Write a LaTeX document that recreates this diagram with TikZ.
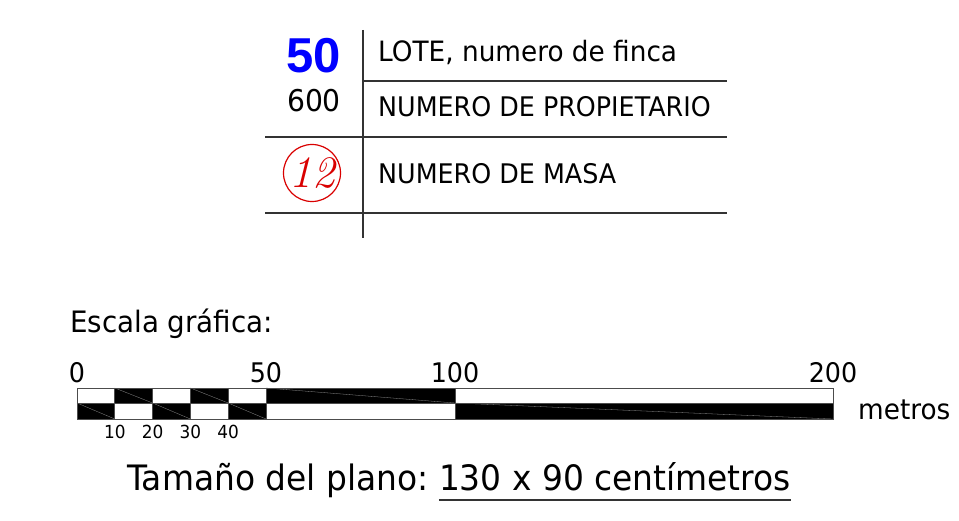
\documentclass[tikz,border=0pt]{standalone}
\usepackage{fontspec}
\setsansfont[FakeStretch=0.94]{DejaVu Sans}
\newfontfamily\boldnum{Liberation Sans}
\renewcommand{\familydefault}{\sfdefault}
\usetikzlibrary{positioning,calc}

\begin{document}
\begin{tikzpicture}[x=1pt,y=-1pt,
    rule/.style={draw=black!80, line width=1.3pt},
    lbl/.style={inner sep=0pt, font=\fontsize{28}{30}\selectfont},
    caps/.style={inner sep=0pt, font=\fontsize{27}{29}\selectfont},
    tick/.style={inner sep=0pt, anchor=base, font=\fontsize{27}{29}\selectfont},
    smalltick/.style={inner sep=0pt, anchor=base, font=\fontsize{18}{20}\selectfont},
    cell/.style={fill=black},
    hatch/.style={draw=black!45, line width=0.3pt}]
                \useasboundingbox (0,0) rectangle (959,521);
                
                % Legend table
                \draw[rule] (363,30) -- (363,238);
                \draw[rule] (363,81) -- (727,81);
                \draw[rule] (265,137) -- (727,137);
                \draw[rule] (265,213) -- (727,213);
                
                \node[anchor=base, inner sep=0pt, text=blue, font=\boldnum\bfseries\fontsize{49}{50}\selectfont] (lote) at (314,73) {50};
                \node[anchor=base, inner sep=0pt, font=\fontsize{30}{32}\selectfont] (prop) at (314,112) {600};
                \node[circle, draw=red!85!black, line width=1.2pt, minimum size=57pt, inner sep=0pt] (masa) at (312,173) {};
                \node[text=red!85!black, font=\rmfamily\itshape\fontsize{45}{47}\selectfont] at (masa) {12};
                
                \node[lbl, anchor=base west] (tlote) at (378,62) {LOTE, numero de finca};
                \node[caps, anchor=base west] (tprop) at (378,117) {NUMERO DE PROPIETARIO};
                \node[caps, anchor=base west] (tmasa) at (378,184) {NUMERO DE MASA};
                
                % Graphic scale
                \node[lbl, anchor=base west, font=\fontsize{29.5}{31}\selectfont] (escala) at (70,333) {Escala gráfica:};
                
                % black cells, top row then bottom row
                \foreach \a/\b in {10/20,30/40,50/100}
                    {\fill[cell] ({77+3.78*\a},388) rectangle ({77+3.78*\b},403);
                     \draw[hatch] ({77+3.78*\a},388) -- ({77+3.78*\b},403);}
                \foreach \a/\b in {0/10,20/30,40/50,100/200}
                    {\fill[cell] ({77+3.78*\a},403) rectangle ({77+3.78*\b},419);
                     \draw[hatch] ({77+3.78*\a},403) -- ({77+3.78*\b},419);}
                
                % outline of the bar
                \draw[black!70, line width=0.9pt] (77,388) rectangle (833,419);
                \draw[black!70, line width=0.9pt] (77,403) -- (833,403);
                \foreach \m in {10,20,30,40,50,100}
                    \draw[black!70, line width=0.9pt] ({77+3.78*\m},388) -- ({77+3.78*\m},419);
                
                \foreach \m in {0,50,100,200}
                    \node[tick] (t\m) at ({77+3.78*\m},382) {\m};
                \foreach \m in {10,20,30,40}
                    \node[smalltick] (s\m) at ({77+3.78*\m},438) {\m};
                \node[lbl, anchor=base west] (metros) at (858,419) {metros};
                
                % Plan size
                \node[inner sep=0pt, anchor=base west, font=\fontsize{35}{37}\selectfont] (plano) at (127,490) {Tamaño del plano:};
                \node[inner sep=0pt, font=\fontsize{35}{37}\selectfont, right=10pt of plano.base east, anchor=base west] (medida) {130 x 90 centímetros};
                \draw[black!80, line width=1.2pt] ($(medida.base west)+(0,10)$) -- ($(medida.base east)+(0,10)$);
\end{tikzpicture}
\end{document}
